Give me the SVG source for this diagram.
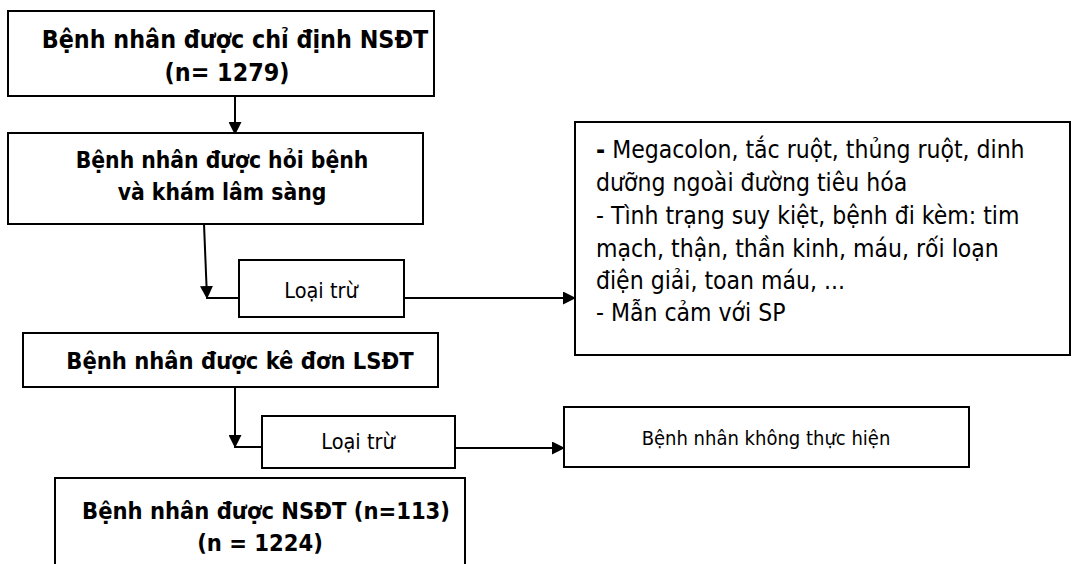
<svg xmlns="http://www.w3.org/2000/svg" width="1073" height="564" viewBox="0 0 1073 564">
<defs>
<style>
.box{fill:#fff;stroke:#000;stroke-width:2}
.b{font-family:"DejaVu Sans Condensed","DejaVu Sans","Liberation Sans",sans-serif;font-stretch:condensed;font-weight:bold;font-size:23.5px;fill:#000;text-anchor:middle}
.r{font-family:"DejaVu Sans Condensed","DejaVu Sans","Liberation Sans",sans-serif;font-stretch:condensed;font-size:24.5px;fill:#000}
.s{font-size:21.5px;text-anchor:middle}
.b1{font-size:24.8px}
.b2{font-size:22.7px}
.s2{font-size:20px}
.ln{fill:none;stroke:#000;stroke-width:2}
</style>
<marker id="ah" markerWidth="13" markerHeight="13" refX="12" refY="6.5" orient="auto" markerUnits="userSpaceOnUse" viewBox="0 0 13 13">
<path d="M0,0 L13,6.5 L0,13 z" fill="#000"/>
</marker>
</defs>
<g id="connectors">
<path class="ln" d="M235,96 V134" marker-end="url(#ah)"/>
<path class="ln" d="M204,224 L207,298" marker-end="url(#ah)"/>
<path class="ln" d="M206,298 H239"/>
<path class="ln" d="M404,298 H575" marker-end="url(#ah)"/>
<path class="ln" d="M235,387 V447" marker-end="url(#ah)"/>
<path class="ln" d="M234,447 H262"/>
<path class="ln" d="M455,448 H564" marker-end="url(#ah)"/>
</g>
<g id="n1"><rect class="box" x="8" y="11" width="426" height="85"/>
<text class="b b1" x="235" y="48">Bệnh nhân được chỉ định NSĐT</text>
<text class="b b1" x="227" y="81">(n= 1279)</text></g>
<g id="n2"><rect class="box" x="8" y="133" width="415" height="91"/>
<text class="b b2" x="222" y="168">Bệnh nhân được hỏi bệnh</text>
<text class="b b2" x="222" y="200">và khám lâm sàng</text></g>
<g id="n3"><rect class="box" x="239" y="260" width="165" height="57"/>
<text class="r s" x="321" y="298">Loại trừ</text></g>
<g id="n4"><rect class="box" x="575" y="122" width="495" height="233"/>
<text class="r" x="596" y="158"><tspan font-weight="bold">-</tspan> Megacolon, tắc ruột, thủng ruột, dinh</text>
<text class="r" x="596" y="191">dưỡng ngoài đường tiêu hóa</text>
<text class="r" x="596" y="224">- Tình trạng suy kiệt, bệnh đi kèm: tim</text>
<text class="r" x="596" y="257">mạch, thận, thần kinh, máu, rối loạn</text>
<text class="r" x="596" y="289">điện giải, toan máu, ...</text>
<text class="r" x="596" y="321">- Mẫn cảm với SP</text></g>
<g id="n5"><rect class="box" x="23" y="333" width="415" height="54"/>
<text class="b" x="240" y="369">Bệnh nhân được kê đơn LSĐT</text></g>
<g id="n6"><rect class="box" x="262" y="416" width="193" height="52"/>
<text class="r s" x="358" y="449">Loại trừ</text></g>
<g id="n7"><rect class="box" x="564" y="407" width="405" height="60"/>
<text class="r s s2" x="766" y="445">Bệnh nhân không thực hiện</text></g>
<g id="n8"><rect class="box" x="55" y="478" width="410" height="100"/>
<text class="b" x="266" y="519">Bệnh nhân được NSĐT (n=113)</text>
<text class="b" x="260" y="551">(n = 1224)</text></g>
</svg>
